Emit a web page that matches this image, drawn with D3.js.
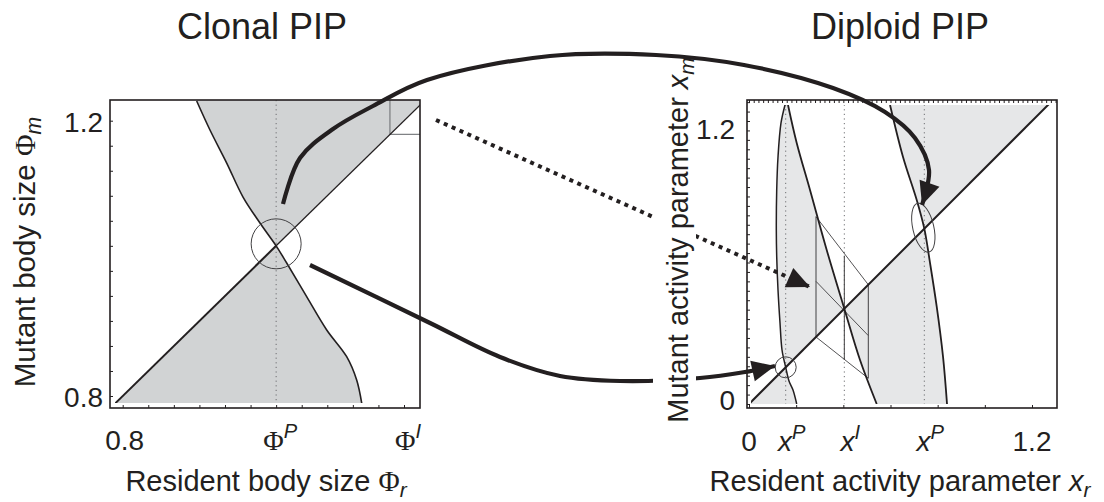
<!DOCTYPE html>
<html>
<head>
<meta charset="utf-8">
<script src="https://cdn.jsdelivr.net/npm/d3@7"></script>
<style>
  body { margin: 0; background: #fff; }
</style>
</head>
<body>
<div class="pip"></div>
<script>
// ---- data ----

// clonal PIP: invasion boundary through the singular point Phi^P
var clonalBoundary = [[0.9052, 1.2286], [0.9241, 1.1865], [0.9479, 1.1385], [0.9711, 1.0891],
    [0.9952, 1.0514], [1.0182, 1.0182], [1.0332, 0.9932], [1.0616, 0.9443], [1.0901, 0.8959],
    [1.1185, 0.8571], [1.1327, 0.8232], [1.1399, 0.7894]];
var clonalSingular = 1.0182;          // Phi^P
var clonalCorner = 1.18;              // little square near Phi^I
var clonalXTicks = [{ v: 0.8, text: "0.8" }, { v: 1.0182, text: "Φ", sup: "P" }, { v: 1.2, text: "Φ", sup: "I" }];
var clonalYTicks = [{ v: 0.8, text: "0.8" }, { v: 1.2, text: "1.2" }];

// diploid PIP: three invasion boundaries (left lens, middle, right)
var diploidCurveA = [[0.1527, 1.268], [0.1357, 1.1917], [0.123, 1.0475], [0.1175, 0.9075], [0.1158, 0.7379],
    [0.1175, 0.6247], [0.123, 0.4835], [0.1315, 0.3435], [0.14, 0.229], [0.1556, 0.1556], [0.1696, 0.0975],
    [0.1866, 0.0594], [0.2023, 0]];
var diploidCurveB = [[0.1654, 1.268], [0.2023, 1.1069], [0.2587, 0.9075], [0.3295, 0.6531], [0.4042, 0.4042],
    [0.4708, 0.1866], [0.5416, 0]];
var diploidCurveC = [[0.598, 1.268], [0.6531, 1.0475], [0.7112, 0.8651], [0.7434, 0.7434], [0.7676, 0.598],
    [0.796, 0.4126], [0.8227, 0.2006], [0.8397, 0]];
var diploidSingular = [0.1556, 0.4042, 0.7434];   // x^P, x^I, x^P
var cobwebVertical = [[0.2841, 0.2841, 0.7943], [0.4042, 0.1866, 0.6289], [0.5059, 0.109, 0.5059]];
var cobwebSlant = [[[0.2841, 0.7943], [0.5059, 0.5059]], [[0.2841, 0.52], [0.5059, 0.29]], [[0.2841, 0.2841], [0.5059, 0.109]]];
var diploidXTicks = [{ v: 0, text: "0" }, { v: 0.1556, text: "x", sup: "P" }, { v: 0.4042, text: "x", sup: "I" },
    { v: 0.7434, text: "x", sup: "P" }, { v: 1.2, text: "1.2" }];
var diploidYTicks = [{ v: 0, text: "0" }, { v: 1.2, text: "1.2" }];

// arrows between the panels (page pixels, last point = arrow tip)
var arrowUpper = [[283, 204], [300, 158], [333, 129], [373, 106], [427, 80], [550, 56], [656, 55], [744, 65],
    [833, 88], [885, 112], [915, 138], [929, 170], [922, 205]];
var arrowLower = [[310, 265], [430, 323], [500, 357], [560, 376], [620, 381], [700, 378], [745, 372], [775, 366]];
var arrowDotted = [[436, 120], [810, 287]];

// ---- drawing ----
var ink = "#231f20";
var sans = "'Liberation Sans', Arial, Helvetica, sans-serif";
var serif = "'Liberation Serif', 'Times New Roman', serif";

var svg = d3.select(".pip").append("svg")
    .attr("width", 1104)
    .attr("height", 502)
    .style("display", "block");

var defs = svg.append("defs");

var translate = (x, y) => "translate(" + x + "," + y + ")";

var curvePath = (pts, sx, sy) => d3.line()
    .x(d => sx(d[0])).y(d => sy(d[1]))
    .curve(d3.curveCatmullRom.alpha(0.5))(pts);

// glue curve pieces and straight pieces into one closed region
var regionPath = function (parts, sx, sy) {
    var d = "";
    parts.forEach((p, i) => {
        var s = p.curve ? curvePath(p.curve, sx, sy)
            : "M" + p.line.map(q => sx(q[0]) + "," + sy(q[1])).join("L");
        if (i > 0) s = "L" + s.slice(1);
        d += s;
    });
    return d + "Z";
};

var upperPart = c => c.filter(d => d[1] >= d[0]);
var lowerPart = c => c.filter(d => d[1] <= d[0]);

// rich text helper: parts = [{t, serif, italic, sup, sub}]
var richText = function (g, parts, size) {
    var text = g.append("text")
        .attr("font-family", sans)
        .attr("font-size", size)
        .attr("fill", ink);
    var shift = 0;
    parts.forEach(p => {
        var ts = text.append("tspan").text(p.t);
        if (p.serif) ts.attr("font-family", serif);
        if (p.italic) ts.attr("font-style", "italic");
        var target = p.sup ? -0.42 * size : p.sub ? 0.2 * size : 0;
        if (p.sup || p.sub) ts.attr("font-size", size * 0.72);
        if (target !== shift) ts.attr("dy", target - shift);
        shift = target;
    });
    return text;
};

var tickLabel = function (g, t, size) {
    var parts = [{ t: t.text, serif: t.text === "Φ", italic: t.text === "x" }];
    if (t.sup) parts.push({ t: t.sup, italic: true, sup: true });
    return richText(g, parts, size);
};

// ================= Clonal PIP =================
var clonal = { x: 110, y: 100, w: 310, h: 308 };
var cx = d3.scaleLinear().domain([0.8, 1.2]).range([122.7, 404]);
var cy = d3.scaleLinear().domain([0.8, 1.2]).range([396, 120.7]);

defs.append("clipPath").attr("id", "clipC")
    .append("rect").attr("x", 115).attr("y", 100).attr("width", 305).attr("height", 303);

var gC = svg.append("g").attr("clip-path", "url(#clipC)");
var cUp = upperPart(clonalBoundary);
var cLo = lowerPart(clonalBoundary);
var cTop = cUp[0], cBot = cLo[cLo.length - 1];

gC.append("path")
    .attr("d", regionPath([{ curve: cUp }, { line: [[1.3, 1.3], [cTop[0], 1.3]] }], cx, cy))
    .attr("fill", "#d1d3d4");
gC.append("path")
    .attr("d", regionPath([{ line: [[0.75, 0.75]] }, { curve: cLo }, { line: [[cBot[0], 0.75]] }], cx, cy))
    .attr("fill", "#d1d3d4");

// small square near Phi^I
gC.append("path")
    .attr("d", "M" + cx(clonalCorner) + "," + cy(1.3) + "V" + cy(clonalCorner) + "H" + cx(1.3))
    .attr("fill", "none").attr("stroke", "#808285").attr("stroke-width", 1.3);

// dotted singular line
gC.append("line")
    .attr("x1", cx(clonalSingular)).attr("x2", cx(clonalSingular))
    .attr("y1", 100).attr("y2", 408)
    .attr("stroke", "#6d6e71").attr("stroke-width", 1).attr("stroke-dasharray", "1.2,3.4");

// diagonal
gC.append("line")
    .attr("x1", cx(0.75)).attr("y1", cy(0.75))
    .attr("x2", cx(clonalSingular)).attr("y2", cy(clonalSingular))
    .attr("stroke", ink).attr("stroke-width", 2);
gC.append("line")
    .attr("x1", cx(clonalSingular)).attr("y1", cy(clonalSingular))
    .attr("x2", cx(1.3)).attr("y2", cy(1.3))
    .attr("stroke", ink).attr("stroke-width", 1.3);

gC.append("path")
    .attr("d", curvePath(clonalBoundary, cx, cy))
    .attr("fill", "none").attr("stroke", ink).attr("stroke-width", 1.6);

svg.append("circle")
    .attr("cx", cx(clonalSingular)).attr("cy", cy(clonalSingular) - 2).attr("r", 25)
    .attr("fill", "none").attr("stroke", "#414042").attr("stroke-width", 1);

// ticks (inward)
var cTickVals = d3.range(12).map(i => 0.8 + i * 0.4 / 11);
svg.append("g").attr("transform", translate(0, clonal.y + clonal.h))
    .call(d3.axisBottom(cx).tickValues(cTickVals).tickSize(-3).tickFormat(""))
    .call(g => g.select(".domain").remove())
    .selectAll("line").attr("stroke", ink);
svg.append("g").attr("transform", translate(clonal.x, 0))
    .call(d3.axisLeft(cy).tickValues(cTickVals).tickSize(-3).tickFormat(""))
    .call(g => g.select(".domain").remove())
    .selectAll("line").attr("stroke", ink);

svg.append("rect")
    .attr("x", clonal.x).attr("y", clonal.y).attr("width", clonal.w).attr("height", clonal.h)
    .attr("fill", "none").attr("stroke", ink).attr("stroke-width", 1.6);

// tick labels
clonalXTicks.forEach(t => {
    var g = svg.append("g").attr("transform", translate(cx(t.v) + (t.sup ? 4 : 2), 450));
    tickLabel(g, t, 28).attr("text-anchor", "middle");
});
clonalYTicks.forEach(t => {
    var g = svg.append("g").attr("transform", translate(clonal.x - 7, cy(t.v) + 11));
    tickLabel(g, t, 28).attr("text-anchor", "end");
});

// titles
richText(svg.append("g").attr("transform", translate(262, 39)), [{ t: "Clonal PIP" }], 36)
    .attr("text-anchor", "middle");
richText(svg.append("g").attr("transform", translate(266, 491)),
    [{ t: "Resident body size " }, { t: "Φ", serif: true }, { t: "r", italic: true, sub: true }], 29)
    .attr("text-anchor", "middle");
richText(svg.append("g").attr("transform", translate(35, 252) + " rotate(-90)"),
    [{ t: "Mutant body size " }, { t: "Φ", serif: true }, { t: "m", italic: true, sub: true }], 29.5)
    .attr("text-anchor", "middle");

// ================= Diploid PIP =================
var diploid = { x: 747, y: 100, w: 310, h: 308 };
var dx = d3.scaleLinear().domain([0, 1.2]).range([749, 1032]);
var dy = d3.scaleLinear().domain([0, 1.2]).range([404, 121]);

defs.append("clipPath").attr("id", "clipD")
    .append("rect").attr("x", 751).attr("y", 105).attr("width", 306).attr("height", 299);

var gD = svg.append("g").attr("clip-path", "url(#clipD)");
var aUp = upperPart(diploidCurveA), aLo = lowerPart(diploidCurveA);
var bUp = upperPart(diploidCurveB), bLo = lowerPart(diploidCurveB);
var cUpD = upperPart(diploidCurveC), cLoD = lowerPart(diploidCurveC);
var rev = a => a.slice().reverse();
var grayD = "#e6e7e8";

// lens between A and B above the diagonal
gD.append("path").attr("fill", grayD)
    .attr("d", regionPath([{ curve: aUp }, { curve: rev(bUp) }], dx, dy));
// left of A below the diagonal
gD.append("path").attr("fill", grayD)
    .attr("d", regionPath([{ line: [[-0.1, -0.1]] }, { curve: aLo },
        { line: [[aLo[aLo.length - 1][0], -0.1]] }], dx, dy));
// between B and C below the diagonal
gD.append("path").attr("fill", grayD)
    .attr("d", regionPath([{ curve: cLoD }, { line: [[cLoD[cLoD.length - 1][0], -0.1], [bLo[bLo.length - 1][0], -0.1]] },
        { curve: rev(bLo) }], dx, dy));
// right of C above the diagonal
gD.append("path").attr("fill", grayD)
    .attr("d", regionPath([{ curve: cUpD }, { line: [[1.5, 1.5], [cUpD[0][0], 1.5]] }], dx, dy));

// dotted singular lines
diploidSingular.forEach(v => {
    gD.append("line")
        .attr("x1", dx(v)).attr("x2", dx(v)).attr("y1", 100).attr("y2", 408)
        .attr("stroke", "#6d6e71").attr("stroke-width", 1).attr("stroke-dasharray", "1.2,3.4");
});

// cobweb
cobwebVertical.forEach(c => {
    gD.append("line")
        .attr("x1", dx(c[0])).attr("x2", dx(c[0])).attr("y1", dy(c[1])).attr("y2", dy(c[2]))
        .attr("stroke", "#414042").attr("stroke-width", 1);
});
cobwebSlant.forEach(s => {
    gD.append("line")
        .attr("x1", dx(s[0][0])).attr("y1", dy(s[0][1])).attr("x2", dx(s[1][0])).attr("y2", dy(s[1][1]))
        .attr("stroke", "#414042").attr("stroke-width", 0.9);
});

gD.append("line")
    .attr("x1", dx(-0.1)).attr("y1", dy(-0.1)).attr("x2", dx(1.5)).attr("y2", dy(1.5))
    .attr("stroke", ink).attr("stroke-width", 2);

[diploidCurveA, diploidCurveB, diploidCurveC].forEach((c, i) => {
    gD.append("path")
        .attr("d", curvePath(c, dx, dy))
        .attr("fill", "none").attr("stroke", ink).attr("stroke-width", i === 0 ? 1.5 : 1.8);
});

svg.append("circle")
    .attr("cx", dx(diploidSingular[0])).attr("cy", dy(diploidSingular[0])).attr("r", 10.5)
    .attr("fill", "none").attr("stroke", "#414042").attr("stroke-width", 1);
svg.append("ellipse")
    .attr("transform", translate(dx(diploidSingular[2]) - 1, dy(diploidSingular[2]) - 1) + " rotate(-13)")
    .attr("rx", 10.5).attr("ry", 25)
    .attr("fill", "none").attr("stroke", "#414042").attr("stroke-width", 1);

// ticks
svg.append("g").attr("transform", translate(0, diploid.y))
    .call(d3.axisTop(dx).tickValues(d3.range(0, 1.31, 0.02)).tickSize(-3).tickFormat(""))
    .call(g => g.select(".domain").remove())
    .selectAll("line").attr("stroke", ink);
svg.append("g").attr("transform", translate(0, diploid.y + diploid.h))
    .call(d3.axisBottom(dx).tickValues(d3.range(0, 1.31, 0.2)).tickSize(-3).tickFormat(""))
    .call(g => g.select(".domain").remove())
    .selectAll("line").attr("stroke", ink);
svg.append("g").attr("transform", translate(diploid.x, 0))
    .call(d3.axisLeft(dy).tickValues(d3.range(0, 1.29, 0.04)).tickSize(-3).tickFormat(""))
    .call(g => g.select(".domain").remove())
    .selectAll("line").attr("stroke", ink);

svg.append("rect")
    .attr("x", diploid.x).attr("y", diploid.y).attr("width", diploid.w).attr("height", diploid.h)
    .attr("fill", "none").attr("stroke", ink).attr("stroke-width", 1.6);

diploidXTicks.forEach(t => {
    var g = svg.append("g").attr("transform", translate(dx(t.v) + (t.sup ? 6 : 0), 451));
    tickLabel(g, t, 28).attr("text-anchor", "middle");
});
diploidYTicks.forEach(t => {
    var g = svg.append("g").attr("transform", translate(diploid.x - 12, dy(t.v) + (t.v > 0 ? 18 : 6)));
    tickLabel(g, t, 28).attr("text-anchor", "end");
});

// ================= arrows =================
defs.append("marker")
    .attr("id", "head")
    .attr("markerUnits", "userSpaceOnUse")
    .attr("viewBox", "-24 -12 26 24")
    .attr("markerWidth", 26).attr("markerHeight", 24)
    .attr("refX", 0).attr("refY", 0)
    .attr("orient", "auto")
    .append("path")
    .attr("d", "M0,0 L-23,-10.5 L-23,10.5 Z")
    .attr("fill", ink);

var arrowLine = d3.line().curve(d3.curveCatmullRom.alpha(0.5));

svg.append("path").attr("d", arrowLine(arrowUpper))
    .attr("fill", "none").attr("stroke", ink).attr("stroke-width", 4.2)
    .attr("marker-end", "url(#head)");
svg.append("path").attr("d", arrowLine(arrowLower))
    .attr("fill", "none").attr("stroke", ink).attr("stroke-width", 4.2)
    .attr("marker-end", "url(#head)");
svg.append("path").attr("d", d3.line()(arrowDotted))
    .attr("fill", "none").attr("stroke", ink).attr("stroke-width", 4)
    .attr("stroke-dasharray", "4,4.6")
    .attr("marker-end", "url(#head)");

// right y title sits on a white strip that interrupts the arrows
svg.append("rect")
    .attr("x", 653).attr("y", 68).attr("width", 43).attr("height", 350)
    .attr("fill", "#fff");
richText(svg.append("g").attr("transform", translate(688, 240) + " rotate(-90)"),
    [{ t: "Mutant activity parameter " }, { t: "x", italic: true }, { t: "m", italic: true, sub: true }], 29)
    .attr("text-anchor", "middle");

richText(svg.append("g").attr("transform", translate(900, 39)), [{ t: "Diploid PIP" }], 36)
    .attr("text-anchor", "middle");
richText(svg.append("g").attr("transform", translate(900, 491)),
    [{ t: "Resident activity parameter " }, { t: "x", italic: true }, { t: "r", italic: true, sub: true }], 29)
    .attr("text-anchor", "middle");
</script>
</body>
</html>
